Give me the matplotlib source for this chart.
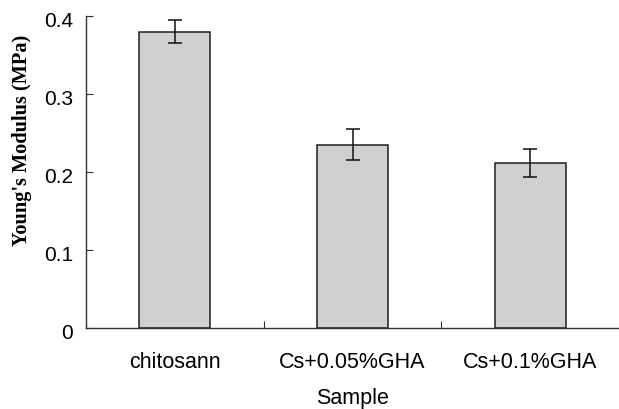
import matplotlib
matplotlib.use("Agg")
import matplotlib.pyplot as plt
from matplotlib.ticker import FixedLocator, NullFormatter
from matplotlib.transforms import ScaledTranslation

samples = ["chitosann", "Cs+0.05%GHA", "Cs+0.1%GHA"]
modulus = [0.380, 0.235, 0.212]
modulus_err = [0.015, 0.020, 0.018]
y_ticks = [0, 0.1, 0.2, 0.3, 0.4]
y_tick_labels = ["0", "0.1", "0.2", "0.3", "0.4"]

plt.rcParams["font.family"] = ["Liberation Sans", "DejaVu Sans"]

fig = plt.figure(figsize=(6.19, 4.10), dpi=100)
ax = fig.add_axes([86 / 619, 1 - 329.3 / 410, 1 - 86 / 619, (329.3 - 17) / 410])

x = list(range(len(samples)))
ax.bar(x, modulus, width=0.4, color="#cfd0cf", edgecolor="#1e1e1e", linewidth=1.1,
       yerr=modulus_err, error_kw=dict(ecolor="#111111", elinewidth=1.1, capsize=4.7, capthick=1.1))

ax.set_xlim(-0.5, 2.5)
ax.set_ylim(0, 0.4)
ax.set_yticks(y_ticks)
ax.set_yticklabels(y_tick_labels)
ax.set_xticks(x)
ax.set_xticklabels(samples)
ax.xaxis.set_minor_locator(FixedLocator([0.5, 1.5]))
ax.xaxis.set_minor_formatter(NullFormatter())

ax.tick_params(axis="x", which="major", length=0, pad=16, labelsize=15.5)
ax.tick_params(axis="x", which="minor", direction="in", length=5, width=0.8, color="#333333")
ax.tick_params(axis="y", direction="in", length=5, width=0.8, color="#333333", pad=9.5, labelsize=15)

# the y labels sit a little below their ticks in the original
shift = ScaledTranslation(0, -2.5 / 100, fig.dpi_scale_trans)
for lab in ax.get_yticklabels():
    lab.set_transform(lab.get_transform() + shift)

for side in ("top", "right"):
    ax.spines[side].set_visible(False)
for side in ("left", "bottom"):
    ax.spines[side].set_linewidth(1.0)
    ax.spines[side].set_color("#333333")

ax.set_xlabel("Sample", fontsize=15.5, labelpad=11)
fig.text(22 / 619, 1 - 140 / 410, "Young's Modulus (MPa)", rotation=90,
         ha="center", va="center", fontsize=14.7, fontweight="bold",
         family=["Liberation Serif", "DejaVu Serif"])

fig.savefig("out.png", dpi=100)
